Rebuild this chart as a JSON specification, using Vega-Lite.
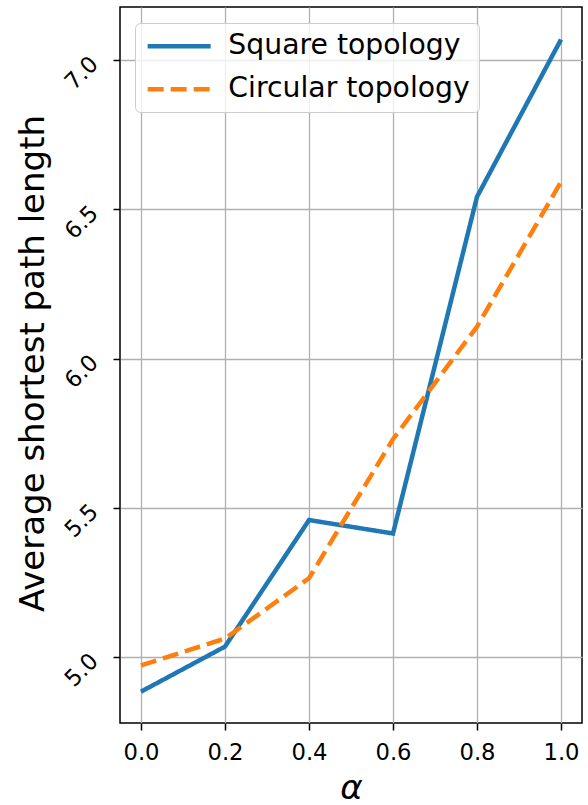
{
  "$schema": "https://vega.github.io/schema/vega-lite/v6.json",
  "width": 462,
  "height": 716,
  "autosize": {"type": "none"},
  "padding": {"left": 120, "top": 7, "right": 6, "bottom": 82},
  "background": "white",
  "config": {
    "font": "DejaVu Sans",
    "view": {"stroke": "black", "strokeWidth": 1.5},
    "axis": {
      "domain": false,
      "grid": true,
      "gridColor": "#b0b0b0",
      "gridWidth": 1.3,
      "tickColor": "black",
      "tickWidth": 1.5,
      "tickSize": 7,
      "labelColor": "black",
      "titleColor": "black",
      "labelFont": "DejaVu Sans",
      "titleFont": "DejaVu Sans",
      "titleFontWeight": "normal",
      "labelFontSize": 22.7
    }
  },
  "data": {
    "values": [
      {"alpha": 0.0, "value": 4.884, "series": "Square topology"},
      {"alpha": 0.2, "value": 5.035, "series": "Square topology"},
      {"alpha": 0.4, "value": 5.459, "series": "Square topology"},
      {"alpha": 0.6, "value": 5.414, "series": "Square topology"},
      {"alpha": 0.8, "value": 6.542, "series": "Square topology"},
      {"alpha": 1.0, "value": 7.069, "series": "Square topology"},
      {"alpha": 0.0, "value": 4.972, "series": "Circular topology"},
      {"alpha": 0.2, "value": 5.062, "series": "Circular topology"},
      {"alpha": 0.4, "value": 5.264, "series": "Circular topology"},
      {"alpha": 0.6, "value": 5.730, "series": "Circular topology"},
      {"alpha": 0.8, "value": 6.107, "series": "Circular topology"},
      {"alpha": 1.0, "value": 6.592, "series": "Circular topology"}
    ]
  },
  "mark": {"type": "line", "strokeWidth": 4.5, "clip": true},
  "encoding": {
    "x": {
      "field": "alpha",
      "type": "quantitative",
      "scale": {"domain": [-0.05, 1.05], "nice": false, "zero": false},
      "axis": {
        "values": [0, 0.2, 0.4, 0.6, 0.8, 1.0],
        "format": ".1f",
        "labelBaseline": "alphabetic",
        "labelPadding": 29,
        "labelFlush": false,
        "title": "α",
        "titleFontSize": 34,
        "titleFontStyle": "italic",
        "titleBaseline": "alphabetic",
        "titleY": 75,
        "titleX": 231
      }
    },
    "y": {
      "field": "value",
      "type": "quantitative",
      "scale": {"domain": [4.779, 7.178], "nice": false, "zero": false},
      "axis": {
        "values": [5.0, 5.5, 6.0, 6.5, 7.0],
        "format": ".1f",
        "labelAngle": -45,
        "labelAlign": "right",
        "labelBaseline": "middle",
        "labelPadding": 19,
        "labelFlush": false,
        "title": "Average shortest path length",
        "titleFontSize": 34,
        "titleAngle": -90,
        "titleAlign": "center",
        "titleBaseline": "alphabetic",
        "titleX": -77,
        "titleY": 356
      }
    },
    "color": {
      "field": "series",
      "type": "nominal",
      "scale": {"domain": ["Square topology", "Circular topology"], "range": ["#1f77b4", "#ff7f0e"]},
      "legend": {
        "title": null,
        "orient": "none",
        "legendX": 15,
        "legendY": 16,
        "symbolType": "M-1,0H5",
        "symbolSize": 441,
        "symbolStrokeWidth": 4.5,
        "labelOffset": 56,
        "labelFontSize": 28.3,
        "labelLimit": 500,
        "labelColor": "black",
        "labelFont": "DejaVu Sans",
        "rowPadding": 14,
        "padding": 9,
        "fillColor": "rgba(255,255,255,0.8)",
        "strokeColor": "#cccccc",
        "cornerRadius": 5
      }
    },
    "strokeDash": {
      "field": "series",
      "type": "nominal",
      "scale": {"domain": ["Square topology", "Circular topology"], "range": [[1, 0], [16, 7]]},
      "legend": null
    }
  }
}
